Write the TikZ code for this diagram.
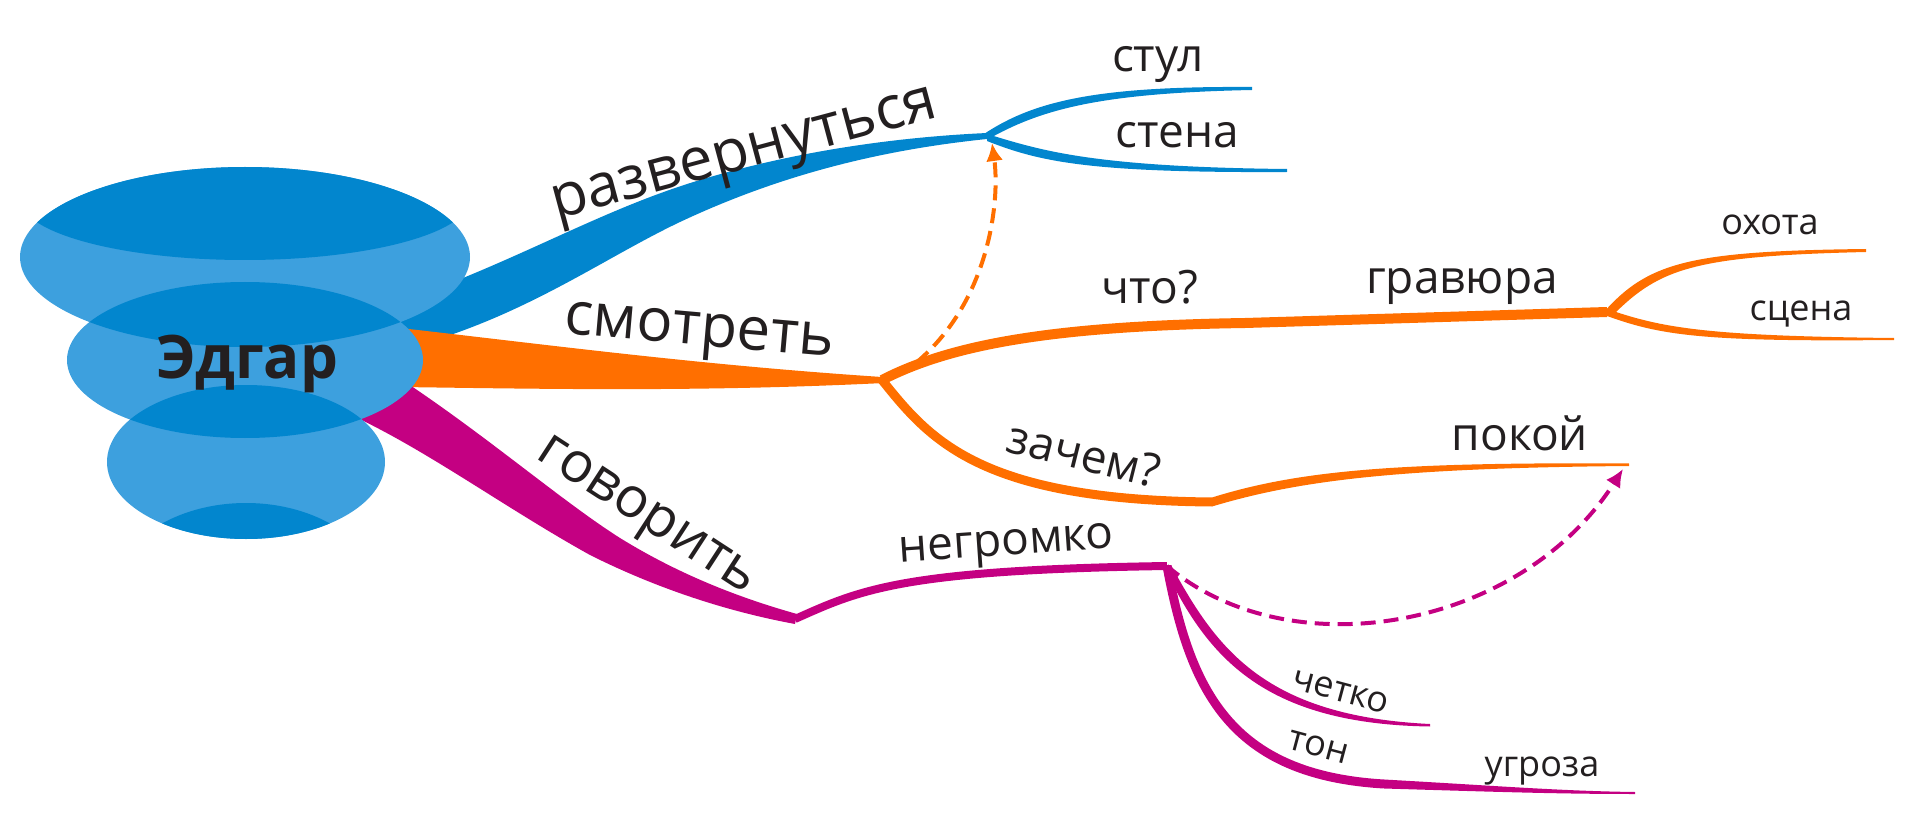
\documentclass[tikz,border=0pt]{standalone}
\usepackage{fontspec}
\setmainfont{Open Sans}
\usetikzlibrary{arrows.meta}
\definecolor{blueB}{RGB}{2,134,206}
\definecolor{blueL}{RGB}{61,160,222}
\definecolor{orng}{RGB}{255,111,0}
\definecolor{magn}{RGB}{196,0,130}
\definecolor{txt}{RGB}{35,31,32}
\tikzset{lvlone/.style={font=\fontsize{60}{60}\selectfont,text=txt,inner sep=0pt,anchor=base}}
\tikzset{lvltwo/.style={font=\fontsize{46}{46}\selectfont,text=txt,inner sep=0pt,anchor=base}}
\tikzset{lvlthree/.style={font=\fontsize{36}{36}\selectfont,text=txt,inner sep=0pt,anchor=base}}
\tikzset{link/.style={dash pattern=on 15pt off 8pt,line width=4pt,-{Latex[length=18pt,width=17pt]}}}

\begin{document}
\begin{tikzpicture}[x=1pt,y=-1pt]
    \useasboundingbox (0,0) rectangle (1920,834);

    % junctions and free ends
    \coordinate (jBlue) at (987,136);
    \coordinate (jOrange) at (882,380);
    \coordinate (jMag) at (795,619);
    \coordinate (jWhat) at (1245,323);
    \coordinate (jGrav) at (1607,312);
    \coordinate (jWhy) at (1212,502);
    \coordinate (jNeg) at (1167,566);
    \coordinate (jTon) at (1384,784);
    \coordinate (aWhat) at (917,362);
    \coordinate (tBlue) at (992,143);
    \coordinate (tPokoy) at (1623,469);

    % main branches
    \fill[blueB] (400,302) .. controls (520,260) and (600,210) .. (700,180) .. controls (800,150) and (900,137) .. (987,133)
        -- (987,139) .. controls (880,150) and (780,175) .. (680,222) .. controls (600,260) and (520,320) .. (400,350) -- cycle;
    \fill[orng] (400,328) .. controls (550,345) and (700,365) .. (882,377)
        -- (884,383) .. controls (700,392) and (550,389) .. (400,387) -- cycle;
    \fill[magn] (390,372) .. controls (480,430) and (560,500) .. (620,538) .. controls (680,575) and (740,598) .. (797,614)
        -- (795,624) .. controls (730,612) and (660,590) .. (590,555) .. controls (500,505) and (420,445) .. (340,410) -- cycle;

    % blue twigs
    \fill[blueB] (984,134) .. controls (1035,100) and (1100,86) .. (1252,87)
        -- (1252,90) .. controls (1105,93) and (1045,108) .. (992,137) -- cycle;
    \fill[blueB] (987,134) .. controls (1040,150) and (1090,167) .. (1287,169)
        -- (1287,172) .. controls (1090,173) and (1040,162) .. (987,141) -- cycle;

    % orange twigs
    \draw[orng,line width=10pt] (jOrange) .. controls (950,345) and (1050,326) .. (jWhat) -- (jGrav);
    \fill[orng] (1603,313) .. controls (1648,262) and (1690,251) .. (1866,249)
        -- (1866,252) .. controls (1695,256) and (1660,268) .. (1613,315) -- cycle;
    \fill[orng] (1607,309) .. controls (1660,327) and (1700,336) .. (1894,338)
        -- (1894,340) .. controls (1700,342) and (1660,335) .. (1607,316) -- cycle;
    \draw[orng,line width=9pt] (jOrange) .. controls (930,440) and (980,500) .. (jWhy);
    \fill[orng] (1212,497.5) .. controls (1300,470) and (1400,462) .. (1629,463.5)
        -- (1629,466) .. controls (1400,468) and (1300,480) .. (1212,506.5) -- cycle;

    % magenta twigs
    \draw[magn,line width=8pt] (jMag) .. controls (860,590) and (900,570) .. (jNeg);
    \fill[magn] (1163,565) .. controls (1205,652) and (1258,724) .. (1430,726.5)
        -- (1430,724) .. controls (1264,716) and (1216,648) .. (1171,565) -- cycle;
    \draw[magn,line width=9pt] (jNeg) .. controls (1190,690) and (1230,775) .. (jTon);
    \fill[magn] (1384,779.5) .. controls (1500,786) and (1560,791) .. (1635,792)
        -- (1635,794) .. controls (1560,794) and (1500,792) .. (1384,788.5) -- cycle;

    % dashed links
    \draw[link,orng] (aWhat) .. controls (990,300) and (1000,200) .. (tBlue);
    \draw[link,magn] (jNeg) .. controls (1290,670) and (1520,630) .. (tPokoy);

    % centre
    \fill[blueL] (245,257) ellipse [x radius=225,y radius=90];
    \fill[blueL] (245,360) ellipse [x radius=178,y radius=78];
    \fill[blueL] (246,462) ellipse [x radius=139,y radius=77];
    \begin{scope}
        \clip (245,257) ellipse [x radius=225,y radius=90];
        \fill[blueB] (245,199) ellipse [x radius=225,y radius=61];
        \fill[blueB] (245,360) ellipse [x radius=178,y radius=78];
    \end{scope}
    \begin{scope}
        \clip (245,360) ellipse [x radius=178,y radius=78];
        \fill[blueB] (246,462) ellipse [x radius=139,y radius=77];
    \end{scope}
    \begin{scope}
        \clip (246,462) ellipse [x radius=139,y radius=77];
        \fill[blueB] (246,604) ellipse [x radius=139,y radius=101];
    \end{scope}
    \node[font=\bfseries\fontsize{60}{60}\selectfont,text=txt,anchor=base,inner sep=0pt] (edgar) at (247,378) {Эдгар};

    % labels
    \node[lvlone,rotate=15] (razv) at (748,168) {развернуться};
    \node[lvlone,rotate=-5] (smotr) at (698,345) {смотреть};
    \node[lvlone,rotate=-33,font=\fontsize{56}{56}\selectfont] (govor) at (640,526) {говорить};
    \node[lvltwo] (stul) at (1158,72) {стул};
    \node[lvltwo] (stena) at (1177,148) {стена};
    \node[lvltwo] (chto) at (1150,304) {что?};
    \node[lvltwo] (grav) at (1462,294) {гравюра};
    \node[lvlthree] (ohota) at (1770,235) {охота};
    \node[lvlthree] (scena) at (1801,320) {сцена};
    \node[lvltwo,rotate=-14] (zachem) at (1080,470) {зачем?};
    \node[lvltwo] (pokoy) at (1520,450) {покой};
    \node[lvltwo,rotate=4] (negr) at (1007,555) {негромко};
    \node[lvlthree,rotate=-15] (chetko) at (1338,701) {четко};
    \node[lvlthree,rotate=-15] (ton) at (1316,756) {тон};
    \node[lvlthree] (ugroza) at (1542,776) {угроза};
\end{tikzpicture}
\end{document}
